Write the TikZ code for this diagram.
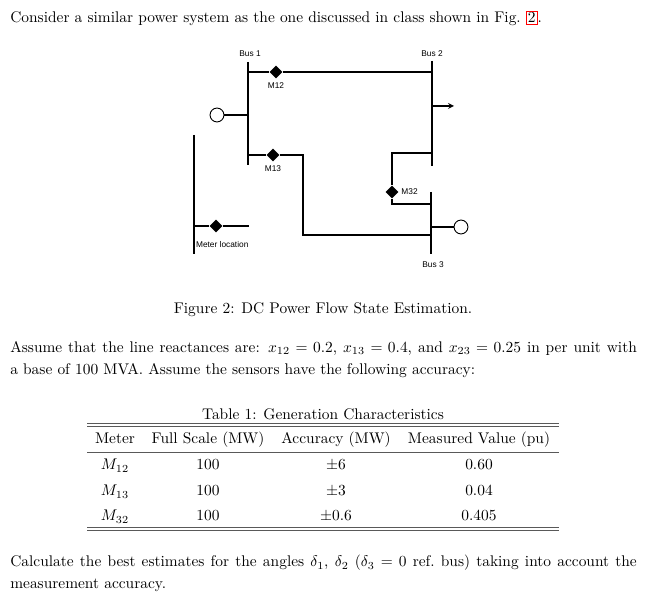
\documentclass[tikz,border=0pt]{standalone}
\usepackage{fontspec}
\newfontfamily\diagfont{Liberation Sans}
\usetikzlibrary{positioning,shapes.geometric}

\tikzset{
  bus/.style={line width=1.4pt},
  line/.style={line width=0.7pt},
  meter/.style={diamond,fill=black,inner sep=0pt,minimum size=8.5pt},
  gen/.style={circle,draw,line width=0.6pt,inner sep=0pt,minimum size=9pt},
  lbl/.style={font=\diagfont\fontsize{5.4}{6}\selectfont,inner sep=0.5pt},
  para/.style={anchor=north west,inner sep=0pt,text width=406pt,align=justify,
    font=\fontsize{10}{14.3}\selectfont},
  cell/.style={inner sep=0pt,anchor=base},
  rulel/.style={line width=0.5pt,gray!70!black}
}

\begin{document}
\begin{tikzpicture}[x=0.648pt,y=-0.648pt]
\useasboundingbox (0,0) rectangle (654,605);
% top sentence
\node[anchor=base west,inner sep=0pt] (intro) at (10,23)
  {Consider a similar power system as the one discussed in class shown in Fig.~{\fboxsep=0.8pt\fboxrule=0.5pt\textcolor{red}{\fbox{\textcolor{black}{2}}}}.};

% buses
\coordinate (b1t) at (248,62);  \coordinate (b1b) at (248,165);
\coordinate (b2t) at (432,61);  \coordinate (b2b) at (432,166);
\coordinate (b3t) at (431,192); \coordinate (b3b) at (431,254);
\coordinate (mlt) at (194,135); \coordinate (mlb) at (194,254);
\draw[bus] (b1t) -- (b1b);
\draw[bus] (b2t) -- (b2b);
\draw[bus] (b3t) -- (b3b);
\draw[bus] (mlt) -- (mlb);
\node[lbl] (bus1) at (250,54) {Bus 1};
\node[lbl] (bus2) at (432,54) {Bus 2};
\node[lbl] (bus3) at (433,265) {Bus 3};

% line 1-2
\coordinate (l12a) at (248,72);
\coordinate (l12b) at (432,72);
\node[meter] (m12) at (276,72) {};
\draw[line] (l12a) -- (m12) -- (l12b);
\node[lbl,below=2pt of m12] (m12l) {M12};

% generator bus 1
\node[gen] (g1) at (217,115) {};
\coordinate (g1b) at (248,115);
\draw[line] (g1) -- (g1b);

% load bus 2
\coordinate (ld2a) at (432,106);
\coordinate (ld2b) at (454,106);
\draw[line,->,>=stealth] (ld2a) -- (ld2b);

% line 1-3
\coordinate (l13a) at (248,155);
\coordinate (l13c) at (303,155);
\coordinate (l13d) at (303,235);
\coordinate (l13e) at (431,235);
\node[meter] (m13) at (273,155) {};
\draw[line] (l13a) -- (m13) -- (l13c) -- (l13d) -- (l13e);
\node[lbl,below=2pt of m13] (m13l) {M13};

% line 3-2
\coordinate (l32a) at (432,153);
\coordinate (l32b) at (392,153);
\coordinate (l32d) at (392,204);
\coordinate (l32e) at (431,204);
\node[meter] (m32) at (392,192) {};
\draw[line] (l32a) -- (l32b) -- (m32) -- (l32d) -- (l32e);
\node[lbl,right=1pt of m32] (m32l) {M32};

% generator bus 3
\node[gen] (g3) at (461,227) {};
\coordinate (g3b) at (431,227);
\draw[line] (g3b) -- (g3);

% meter legend
\coordinate (mla) at (194,226);
\coordinate (mlc) at (249,226);
\node[meter] (mleg) at (216,226) {};
\draw[line] (mla) -- (mleg) -- (mlc);
\node[lbl,anchor=west] (mlegl) at (195,245) {Meter location};

% captions and text
\node[anchor=base,inner sep=0pt] (figcap) at (323,314) {Figure 2: DC Power Flow State Estimation.};
\node[para] (assume) at (10,341)
  {Assume that the line reactances are: $x_{12}=0.2$, $x_{13}=0.4$, and $x_{23}=0.25$ in per unit with\linebreak a base of 100 MVA. Assume the sensors have the following accuracy:};
\node[anchor=base,inner sep=0pt] (tabcap) at (323,420) {Table 1: Generation Characteristics};

% table rules
\draw[rulel] (87,423) -- (559,423);
\draw[rulel] (87,426.5) -- (559,426.5);
\draw[rulel] (87,452) -- (559,452);
\draw[rulel] (87,527) -- (559,527);
\draw[rulel] (87,530.5) -- (559,530.5);

% table cells
\foreach \cx/\txt [count=\i] in {115/Meter, 208/Full Scale (MW), 336/Accuracy (MW), 479/Measured Value (pu)}
  \node[cell] (h\i) at (\cx,444) {\txt};
\foreach \yy/\mm/\acc/\val [count=\r] in {470/12/\pm6/0.60, 496/13/\pm3/0.04, 521/32/\pm0.6/0.405} {
  \node[cell] (r\r a) at (115,\yy) {$M_{\mm}$};
  \node[cell] (r\r b) at (208,\yy) {100};
  \node[cell] (r\r c) at (336,\yy) {$\acc$};
  \node[cell] (r\r d) at (479,\yy) {\val};
}

\node[para] (calc) at (10,555)
  {Calculate the best estimates for the angles $\delta_1$, $\delta_2$ ($\delta_3=0$ ref.\ bus) taking into account the measurement accuracy.};
\end{tikzpicture}
\end{document}
